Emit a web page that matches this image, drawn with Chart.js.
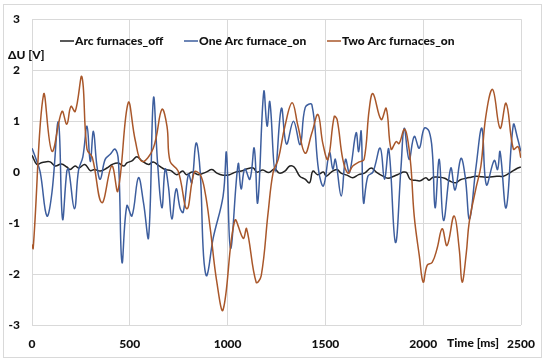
<!DOCTYPE html>
<html>
<head>
<meta charset="utf-8">
<script src="https://cdn.jsdelivr.net/npm/chart.js@4/dist/chart.umd.min.js"></script>
<style>
  html, body { margin: 0; padding: 0; background: #fff; }
  #wrap { width: 550px; height: 364px; position: relative; }
</style>
</head>
<body>
<div id="wrap"><canvas id="c" width="550" height="364"></canvas></div>
<script>
/* global Chart */

// time axis in ms, voltage deviation in V
const offTime = [0, 25, 45, 67, 93, 119, 150, 178, 195, 220, 240, 270, 298, 320, 349, 383, 410, 440, 470, 485,
  511, 536, 562, 596, 620, 650, 680, 710, 740, 770, 790, 820, 850, 890, 920, 945, 977, 1010, 1040, 1070,
  1097, 1131, 1150, 1180, 1210, 1240, 1265, 1293, 1318, 1340, 1369, 1396, 1419, 1436, 1460, 1490, 1504, 1530, 1559, 1580,
  1610, 1640, 1670, 1700, 1734, 1760, 1794, 1820, 1850, 1880, 1899, 1915, 1933, 1960, 1985, 2014, 2030, 2050, 2080, 2110,
  2133, 2167, 2190, 2220, 2245, 2269, 2300, 2330, 2376, 2410, 2445, 2479, 2499];
const offVolt = [0.33, 0.15, 0.18, 0.2, 0.2, 0.12, 0.16, 0.1, 0.05, 0.12, 0.08, 0.15, 0.03, 0.05, 0.02, 0.08, 0.15, 0.18, 0.12, 0.18,
  0.22, 0.3, 0.22, 0.15, 0.2, 0.12, 0.05, 0.03, -0.05, 0.02, -0.05, 0.0, -0.05, 0.0, 0.05, -0.02, -0.06, -0.05, 0.0, 0.02,
  0.06, 0.08, 0.0, 0.04, -0.01, 0.06, -0.02, 0.02, 0.12, 0.1, -0.08, -0.14, -0.21, 0.02, -0.05, 0.0, -0.08, 0.0, 0.05, -0.02,
  -0.06, -0.11, -0.05, -0.02, 0.08, 0.0, -0.08, -0.12, -0.08, -0.03, 0.0, -0.01, -0.14, -0.16, -0.17, -0.11, -0.16, -0.1, -0.1, -0.12,
  -0.17, -0.21, -0.15, -0.12, -0.1, -0.08, -0.09, -0.1, -0.08, -0.08, -0.01, 0.07, 0.1];

const oneTime = [0, 21, 42, 76, 102, 135, 156, 178, 187, 217, 238, 260, 281, 298, 314, 332, 349, 374, 400, 425,
  442, 460, 485, 511, 544, 570, 596, 621, 642, 664, 681, 698, 715, 737, 758, 773, 800, 817, 839, 860,
  877, 894, 926, 977, 994, 1015, 1054, 1069, 1088, 1114, 1136, 1154, 1185, 1202, 1216, 1243, 1275, 1301, 1337, 1371,
  1397, 1431, 1465, 1490, 1521, 1538, 1551, 1581, 1603, 1623, 1657, 1670, 1683, 1695, 1717, 1743, 1780, 1802, 1824, 1858,
  1887, 1903, 1928, 1954, 1980, 2005, 2030, 2047, 2061, 2082, 2104, 2141, 2163, 2193, 2215, 2237, 2270, 2300, 2323, 2363,
  2380, 2393, 2424, 2461, 2482, 2499];
const oneVolt = [0.47, 0.25, 0.0, -0.86, -0.4, 0.98, -0.92, 0.02, 0.06, -0.72, 0.04, 0.3, 0.9, 0.21, 0.8, 0.12, -0.14, 0.25, 0.35, 0.45,
  0.21, -1.77, -0.66, -0.86, -0.11, -0.6, -1.28, 1.45, 0.18, -0.7, 0.06, -0.3, -0.92, -0.33, -0.72, -0.79, -0.04, -0.21, 0.57, 0.0,
  -1.64, -2.03, -1.3, -0.47, 0.38, -1.5, 0.16, -0.33, 0.06, -0.14, 0.47, -0.6, 1.58, 0.9, 1.38, 0.02, 1.25, 0.55, 1.0, 0.54,
  1.27, 1.32, 0.04, -0.27, 0.38, 0.06, 0.25, -0.47, 0.25, -0.01, 0.77, 0.4, 0.8, -0.6, -0.08, 0.0, 0.47, -0.14, 0.45, -1.38,
  0.12, 0.86, 0.25, 0.7, 0.47, 0.86, 0.8, 0.38, -0.7, 0.25, -0.95, 0.08, -0.35, 0.27, -0.1, -0.92, 0.1, 0.86, -0.25, 0.23,
  0.05, 0.4, -0.7, 0.93, 0.67, 0.41];

const twoTime = [0, 6, 59, 102, 153, 178, 199, 221, 255, 281, 308, 357, 408, 439, 492, 528, 562, 620, 664, 690,
  706, 747, 792, 830, 860, 885, 911, 945, 977, 1037, 1080, 1097, 1146, 1172, 1207, 1233, 1259, 1293, 1330, 1360,
  1396, 1431, 1462, 1487, 1513, 1545, 1560, 1589, 1615, 1640, 1673, 1698, 1724, 1743, 1785, 1811, 1836, 1862, 1877, 1903,
  1918, 1937, 1954, 1980, 2000, 2020, 2046, 2071, 2097, 2122, 2158, 2184, 2199, 2220, 2235, 2269, 2295, 2320, 2355, 2393,
  2424, 2461, 2485, 2499];
const twoVolt = [-1.42, -1.5, 1.52, 0.41, 1.19, 0.94, 1.29, 1.19, 1.87, 0.45, 0.29, -0.6, 0.12, -0.37, 1.36, 0.62, 0.21, 0.47, 1.23, 0.9,
  0.21, 0.02, -0.72, 0.0, -0.05, -0.4, -1.1, -2.16, -2.7, -0.95, -1.3, -1.11, -2.16, -2.03, -0.8, 0.0, 0.25, 0.9, 1.36, 0.9,
  0.37, 0.77, 1.13, 0.56, 0.25, 1.09, 1.03, 0.25, -0.02, 0.12, 0.2, 0.25, 1.23, 1.54, 1.03, 1.25, 0.45, 0.6, 0.56, 0.84,
  0.7, 0.12, -0.86, -1.64, -2.16, -1.83, -1.77, -1.5, -1.11, -1.44, -0.86, -1.5, -2.16, -1.6, -0.99, -0.33, 0.12, 1.09, 1.62, 0.86,
  1.35, 0.45, 0.5, 0.28];

const seriesNames = ['Arc furnaces_off', 'One Arc furnace_on', 'Two Arc furnaces_on'];
const seriesColors = ['#222222', '#3d5e9e', '#a9572a'];

const textFont = 'Lato, "Open Sans", sans-serif';
const textColor = '#111111';

function toPoints(xs, ys) {
  return xs.map((x, i) => ({ x, y: ys[i] }));
}

// outer frame of the chart object
const framePlugin = {
  id: 'frame',
  beforeDraw(chart) {
    const c = chart.ctx;
    c.save();
    c.fillStyle = '#ffffff';
    c.fillRect(0, 0, chart.width, chart.height);
    c.strokeStyle = '#d9d9d9';
    c.lineWidth = 1;
    c.strokeRect(3.5, 4.5, 538, 353);
    c.restore();
  }
};

// axis titles + legend sitting inside the plot, like the original
const labelsPlugin = {
  id: 'labels',
  afterDraw(chart) {
    const c = chart.ctx;
    c.save();
    c.font = '900 12px ' + textFont;
    c.fillStyle = textColor;
    c.textBaseline = 'middle';
    c.textAlign = 'left';
    c.fillText('\u0394U [V]', 8, 55);
    c.fillText('Time [ms]', 447, 343);

    const legendX = [60, 184, 327];
    const legendY = 41;
    seriesNames.forEach((name, i) => {
      const x = legendX[i];
      c.strokeStyle = seriesColors[i];
      c.lineWidth = 1.5;
      c.beginPath();
      c.moveTo(x, legendY);
      c.lineTo(x + 14, legendY);
      c.stroke();
      c.fillStyle = textColor;
      c.fillText(name, x + 15, legendY);
    });
    c.restore();
  }
};

const ds = [
  { label: seriesNames[0], data: toPoints(offTime, offVolt), order: 3 },
  { label: seriesNames[1], data: toPoints(oneTime, oneVolt), order: 2 },
  { label: seriesNames[2], data: toPoints(twoTime, twoVolt), order: 1 }
].map((d, i) => Object.assign(d, {
  borderColor: seriesColors[i],
  backgroundColor: seriesColors[i],
  borderWidth: 1.5,
  pointRadius: 0,
  tension: 0.4,
  fill: false
}));

const tickFont = { family: textFont, size: 12, weight: '900' };

new Chart(document.getElementById('c').getContext('2d'), {
  type: 'line',
  data: { datasets: ds },
  options: {
    responsive: false,
    animation: false,
    parsing: false,
    layout: { padding: { left: 0, right: 29, top: 17, bottom: 0 } },
    scales: {
      x: {
        type: 'linear',
        min: 0,
        max: 2500,
        border: { display: false },
        grid: { color: '#d9d9d9', drawTicks: false },
        ticks: {
          stepSize: 500,
          padding: 12,
          maxRotation: 0,
          color: textColor,
          font: tickFont,
          callback: (v) => String(v)
        },
        afterFit(scale) { scale.height = 39; }
      },
      y: {
        min: -3,
        max: 3,
        border: { display: false },
        grid: { color: '#d9d9d9', drawTicks: false },
        ticks: {
          stepSize: 1,
          padding: 12,
          color: textColor,
          font: tickFont,
          callback: (v) => String(v)
        },
        afterFit(scale) { scale.width = 32; }
      }
    },
    plugins: {
      legend: { display: false },
      tooltip: { enabled: false }
    }
  },
  plugins: [framePlugin, labelsPlugin]
});
</script>
</body>
</html>
